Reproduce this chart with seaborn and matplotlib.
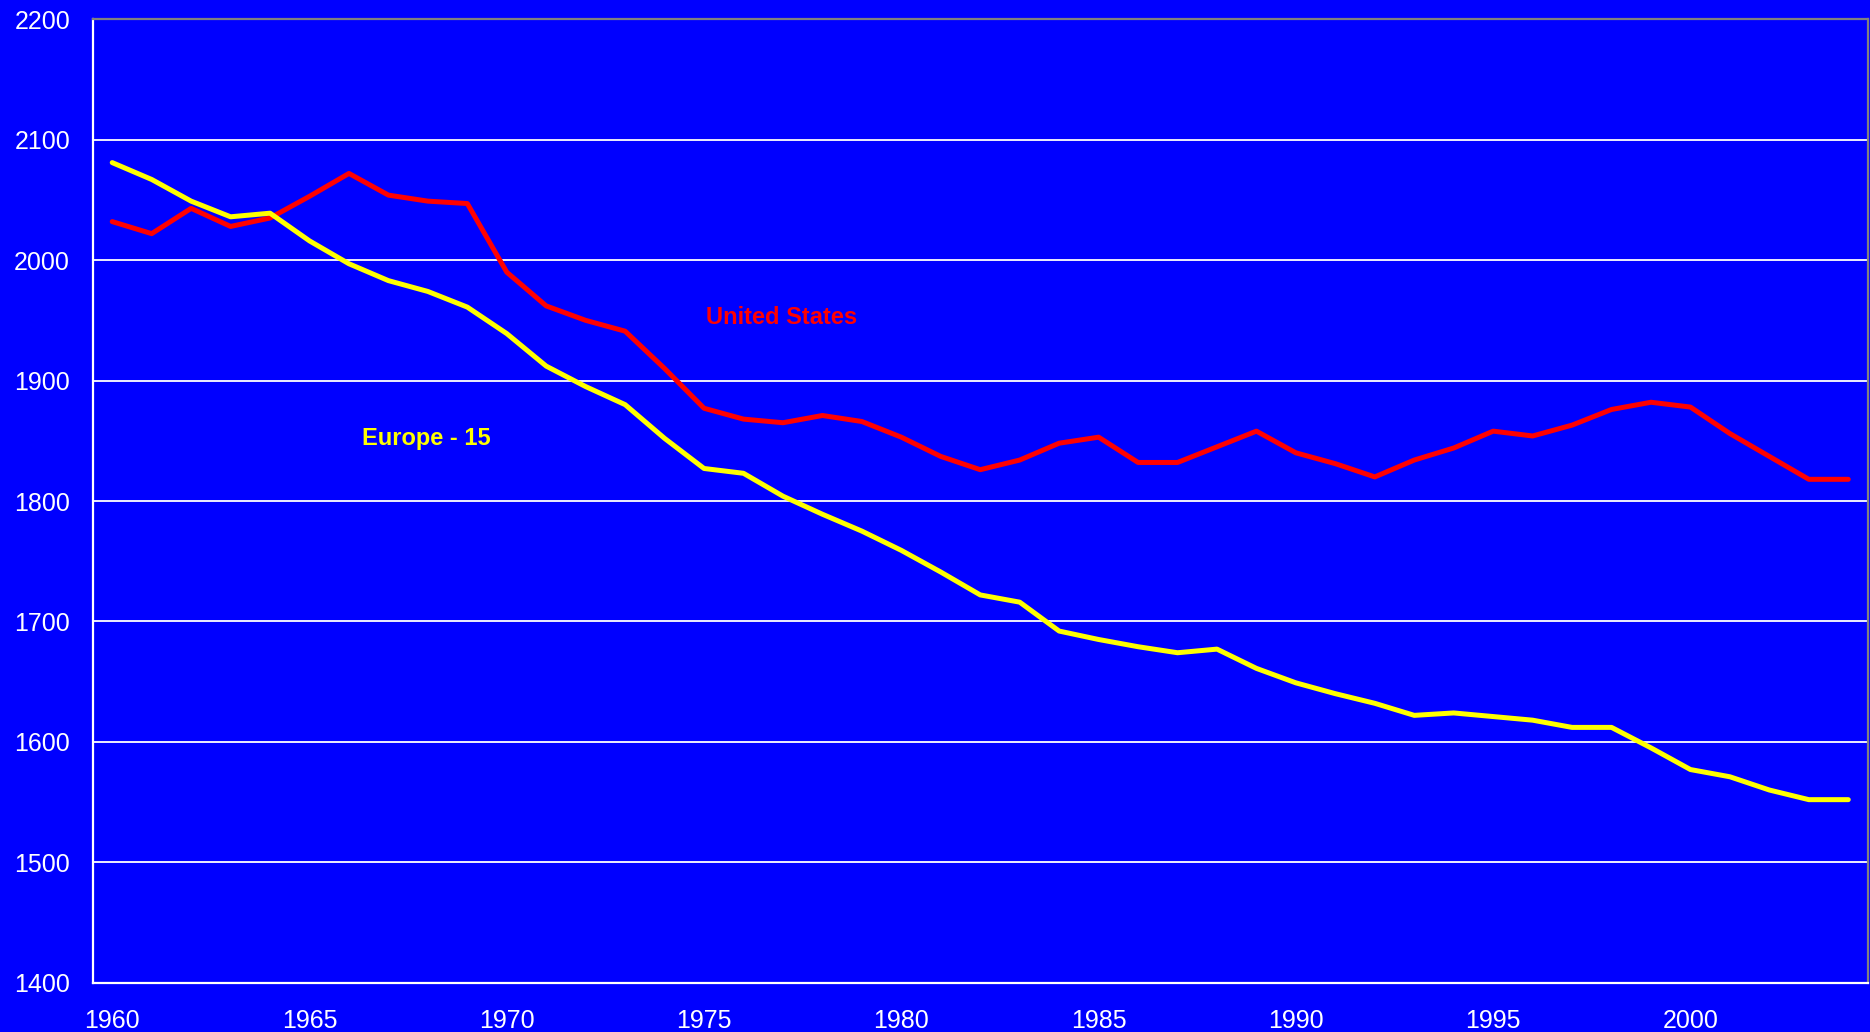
import numpy as np
import pandas as pd
import matplotlib
matplotlib.use("Agg")
import matplotlib.pyplot as plt
import seaborn as sns
from matplotlib.ticker import FixedLocator

years = list(range(1960, 2005))
united_states = [2032, 2022, 2043, 2028, 2035, 2053, 2072, 2054, 2049, 2047,
                 1990, 1962, 1950, 1941, 1910, 1877, 1868, 1865, 1871, 1866,
                 1853, 1837, 1826, 1834, 1848, 1853, 1832, 1832, 1845, 1858,
                 1840, 1831, 1820, 1834, 1844, 1858, 1854, 1863, 1876, 1882,
                 1878, 1856, 1837, 1818, 1818]
europe_15 = [2081, 2067, 2049, 2036, 2039, 2016, 1997, 1983, 1974, 1961,
             1939, 1912, 1895, 1880, 1852, 1827, 1823, 1804, 1789, 1775,
             1759, 1741, 1722, 1716, 1692, 1685, 1679, 1674, 1677, 1661,
             1649, 1640, 1632, 1622, 1624, 1621, 1618, 1612, 1612, 1595,
             1577, 1571, 1560, 1552, 1552]
series_names = ["United States", "Europe - 15"]
series_colors = ["#FF0000", "#FFFF00"]
x_tick_labels = ["1960", "1965", "1970", "1975", "1980", "1985", "1990", "1995", "2000"]
y_ticks = [1400, 1500, 1600, 1700, 1800, 1900, 2000, 2100, 2200]

df = pd.DataFrame({
    "year": years * 2,
    "hours": united_states + europe_15,
    "series": [series_names[0]] * len(years) + [series_names[1]] * len(years),
})

sns.set_style("white")
plt.rcParams["font.family"] = ["Liberation Sans", "DejaVu Sans"]

fig = plt.figure(figsize=(18.7, 10.32), dpi=100, facecolor="#0000FF")
ax = fig.add_axes([92.5 / 1870, 1 - 982.7 / 1032, (1868 - 92.5) / 1870, (982.7 - 19.3) / 1032])
ax.set_facecolor("#0000FF")

sns.lineplot(data=df, x="year", y="hours", hue="series", palette=dict(zip(series_names, series_colors)),
             linewidth=3.6, legend=False, ax=ax, zorder=3)

ax.set_xlim(years[0] - 0.5, years[-1] + 0.5)
ax.set_ylim(y_ticks[0], y_ticks[-1])
ax.set_yticks(y_ticks)
ax.set_yticklabels([str(v) for v in y_ticks])
ax.set_xticks([int(t) for t in x_tick_labels])
ax.set_xticklabels(x_tick_labels)
ax.xaxis.set_minor_locator(FixedLocator([y - 0.5 for y in years] + [years[-1] + 0.5]))

ax.tick_params(axis="x", which="major", length=0, pad=19, labelsize=18, colors="white")
ax.tick_params(axis="x", which="minor", length=5, width=1.6, color="white", direction="out")
ax.tick_params(axis="y", which="major", length=5.8, width=1.6, color="white", labelsize=18,
               labelcolor="white", pad=10.4, direction="out")

ax.set_xlabel("")
ax.set_ylabel("")
ax.grid(axis="y", color="white", linewidth=1.3, zorder=1)
ax.grid(axis="x", visible=False)
ax.set_axisbelow(True)

for side in ["left", "bottom"]:
    ax.spines[side].set_color("white")
    ax.spines[side].set_linewidth(1.6)
    ax.spines[side].set_visible(True)
for side in ["top", "right"]:
    ax.spines[side].set_color("#808080")
    ax.spines[side].set_linewidth(1.6)
    ax.spines[side].set_visible(True)

label_font = ["Liberation Sans", "DejaVu Sans"]
fig.text(782 / 1870, 1 - 317 / 1032, "United States", color="#FF0000", fontsize=17,
         fontweight="bold", family=label_font, ha="center", va="center")
fig.text(426.5 / 1870, 1 - 438 / 1032, "Europe - 15", color="#FFFF00", fontsize=17,
         fontweight="bold", family=label_font, ha="center", va="center")

fig.savefig("out.png", dpi=100, facecolor=fig.get_facecolor())
